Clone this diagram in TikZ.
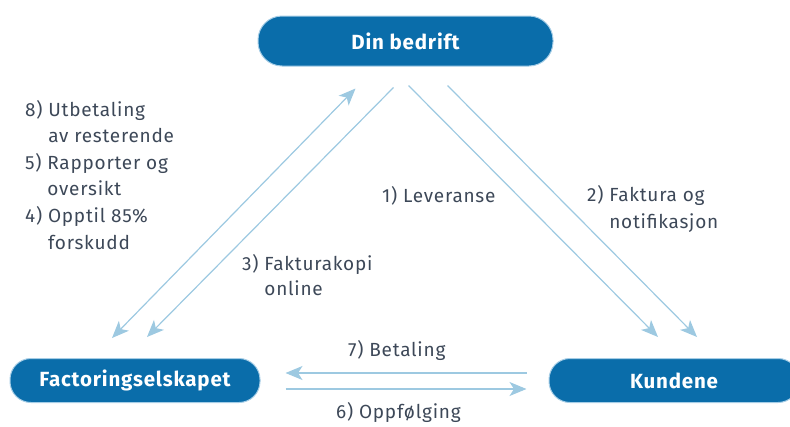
\documentclass[tikz,border=0pt]{standalone}
\usepackage{fontspec}
\setmainfont{Fira Sans}[LetterSpace=4]
\usetikzlibrary{positioning, arrows.meta, calc}
\definecolor{boxblue}{HTML}{0A6DAA}
\definecolor{rimblue}{HTML}{A5CDE6}
\definecolor{flowblue}{HTML}{9DC9E1}
\definecolor{labelgray}{HTML}{3D4858}
\tikzset{>={Stealth[length=17pt, width=14pt, inset=4.5pt]}}

\begin{document}
\begin{tikzpicture}[x=1pt, y=-1pt,
    party/.style={rectangle, rounded corners=21pt, draw=rimblue, line width=1pt, fill=boxblue, text=white, font=\fontsize{20.5}{22}\selectfont\bfseries, minimum width=250pt, minimum height=44pt},
    flow/.style={draw=flowblue, line width=1.2pt},
    note/.style={text=labelgray, font=\fontsize{19}{26.6}\selectfont, align=left, anchor=base west, inner sep=0pt}
]
    \useasboundingbox (0,0) rectangle (790,426);
    \node[party, minimum width=295pt, minimum height=50pt, rounded corners=24pt] (bedrift) at (405.5,41) {Din bedrift};
    \node[party] (factoring) at (135,380.5) {Factoringselskapet};
    \node[party] (kundene) at (674,380.5) {Kundene};

    \draw[flow, <->] ([shift={(-23,-20)}]factoring.north) -- ([shift={(-50,22)}]bedrift.south);
    \draw[flow, ->] ([shift={(-12,21)}]bedrift.south) -- ([shift={(12,-21)}]factoring.north);
    \draw[flow, ->] ([shift={(3,19)}]bedrift.south) -- ([shift={(-16,-21)}]kundene.north);
    \draw[flow, ->] ([shift={(42,19)}]bedrift.south) -- ([shift={(23,-21)}]kundene.north);
    \draw[flow, ->] ([shift={(-22,-7.5)}]kundene.west) -- ([shift={(25,-7.5)}]factoring.east);
    \draw[flow, ->] ([shift={(25,8.5)}]factoring.east) -- ([shift={(-22,8.5)}]kundene.west);

    % multi-line notes sit on the baseline of their last line
    \node[note] (payout) at (25,249) {8) Utbetaling\\\phantom{8) }av resterende\\5) Rapporter og\\\phantom{5) }oversikt\\4) Opptil 85\%\\\phantom{4) }forskudd};
    \node[note, font=\fontsize{19}{25}\selectfont] (copy) at (242,295) {3) Fakturakopi\\\phantom{3) }online};
    \node[note] (delivery) at (382,202) {1) Leveranse};
    \node[note] (invoice) at (587,228) {2) Faktura og\\\phantom{2) }notifikasjon};
    \node[note] (payment) at (348,356) {7) Betaling};
    \node[note] (followup) at (336,418) {6) Oppfølging};
\end{tikzpicture}
\end{document}
